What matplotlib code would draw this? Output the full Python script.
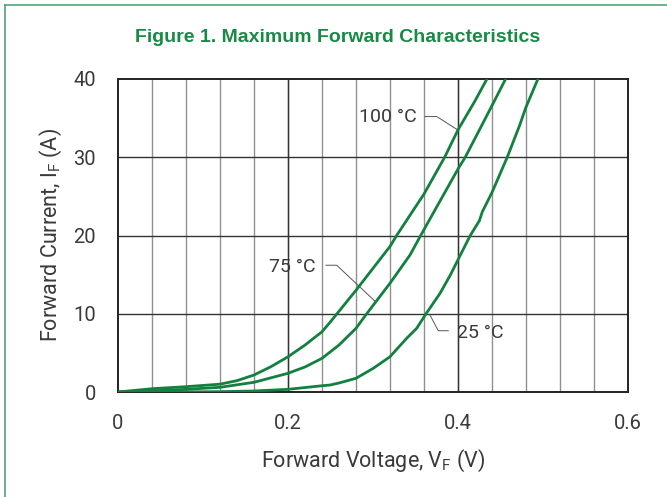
import matplotlib
matplotlib.use("Agg")
import matplotlib.pyplot as plt
import numpy as np

# curves (V in volts, I in amps)
v100 = [0, 0.04, 0.08, 0.12, 0.14, 0.16, 0.18, 0.20, 0.22, 0.24, 0.2494, 0.28,
        0.3121, 0.32, 0.3278, 0.36, 0.3843, 0.40, 0.42, 0.434]
i100 = [0, 0.42, 0.68, 1.0, 1.45, 2.17, 3.24, 4.5, 6.0, 7.7, 8.9, 13.0,
        17.5, 18.6, 20.0, 25.3, 30.0, 33.5, 37.2, 40]

v75 = [0, 0.04, 0.08, 0.12, 0.16, 0.20, 0.22, 0.24, 0.26, 0.28, 0.2926, 0.32,
       0.3435, 0.3561, 0.40, 0.4085, 0.44, 0.456]
i75 = [0, 0.15, 0.34, 0.6, 1.24, 2.39, 3.2, 4.3, 6.0, 8.14, 10.0, 13.9,
       17.5, 20.0, 28.5, 30.0, 36.6, 40]

v25 = [0, 0.08, 0.12, 0.16, 0.20, 0.24, 0.2494, 0.26, 0.28, 0.3004, 0.32, 0.3396,
       0.3514, 0.3624, 0.3788, 0.391, 0.40, 0.4144, 0.4252, 0.4285, 0.4377, 0.44,
       0.4579, 0.4726, 0.4796, 0.494]
i25 = [0, 0.02, 0.04, 0.13, 0.34, 0.8, 0.89, 1.15, 1.75, 3.03, 4.51, 6.86,
       8.14, 10.0, 12.6, 14.95, 16.9, 20.0, 21.9, 23.0, 25.0, 25.5,
       30.0, 34.1, 36.3, 40]

labels = ["100 °C", "75 °C", "25 °C"]
# text position, leader line points (data coords)
label_xy = [(0.3174, 35.2), (0.2053, 16.0), (0.4268, 7.5)]
leaders = [
    ([0.3612, 0.375, 0.3996], [35.2, 35.2, 33.5]),
    ([0.2447, 0.2573, 0.3024], [16.2, 16.2, 11.6]),
    ([0.367, 0.3768, 0.3886], [9.84, 7.83, 7.83]),
]

green = "#12803f"
txt = "#3a3a3a"
font = ["Roboto", "DejaVu Sans"]

plt.rcParams["font.family"] = font
plt.rcParams["mathtext.fontset"] = "custom"
plt.rcParams["mathtext.rm"] = "Roboto"

fig = plt.figure(figsize=(6.67, 4.97), dpi=100)
ax = fig.add_axes([118 / 667, 105 / 497, 510 / 667, 313 / 497])

ax.set_xlim(0, 0.6)
ax.set_ylim(0, 40)

# grid
for v in np.arange(0.04, 0.6, 0.04):
    ax.axvline(v, color="#909090", lw=1.0, zorder=1)
for v in [0.2, 0.4]:
    ax.axvline(v, color="#333333", lw=1.0, zorder=1)
for i in [10, 20, 30]:
    ax.axhline(i, color="#333333", lw=1.0, zorder=1)

for v, i in [(v100, i100), (v75, i75), (v25, i25)]:
    ax.plot(v, i, color=green, lw=2.0, zorder=3, solid_capstyle="round",
            solid_joinstyle="round")

for lab, (x, y), (lx, ly) in zip(labels, label_xy, leaders):
    ax.plot(lx, ly, color="#555555", lw=0.7, zorder=2)
    ax.text(x, y, lab, ha="center", va="center", fontsize=14, color=txt, zorder=4)

ax.set_xticks([0, 0.2, 0.4, 0.6])
ax.set_xticklabels(["0", "0.2", "0.4", "0.6"])
ax.set_yticks([0, 10, 20, 30, 40])
ax.tick_params(length=0, labelsize=14.5, labelcolor=txt, pad=16)

for s in ax.spines.values():
    s.set_color("#222222")
    s.set_linewidth(1.4)

ax.set_xlabel("Forward Voltage, V$_\\mathregular{F}$ (V)", fontsize=15.5, color=txt)
ax.set_ylabel("Forward Current, I$_\\mathregular{F}$ (A)", fontsize=15.5, color=txt)
ax.xaxis.label.set_va("center")
ax.yaxis.label.set_va("center")
ax.xaxis.set_label_coords(0.5, -0.22)
ax.yaxis.set_label_coords(-0.131, 0.5)

fig.text(338 / 667, 1 - 37 / 497, "Figure 1. Maximum Forward Characteristics",
         ha="center", va="center", fontsize=14, fontweight="bold", color="#178a45",
         family=["Liberation Sans", "DejaVu Sans"])

# frame lines (top and left only)
border = "#4aa874"
fig.add_artist(plt.Line2D([5 / 667, 1], [1 - 5 / 497, 1 - 5 / 497], color=border, lw=1.2,
                          transform=fig.transFigure))
fig.add_artist(plt.Line2D([5 / 667, 5 / 667], [0, 1 - 5 / 497], color=border, lw=1.2,
                          transform=fig.transFigure))

fig.savefig("out.png", dpi=100)
